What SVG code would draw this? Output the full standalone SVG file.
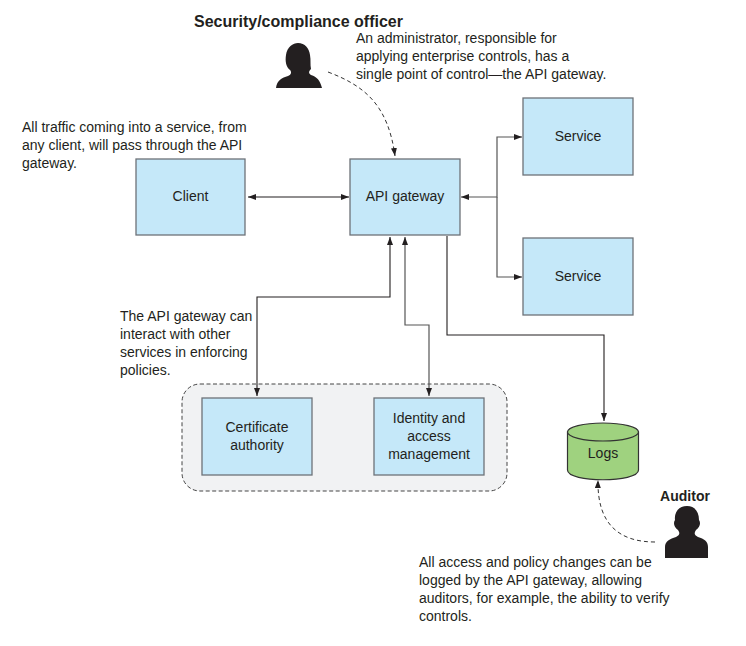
<svg xmlns="http://www.w3.org/2000/svg" width="746" height="646" viewBox="0 0 746 646">
<style>
text{font-family:"Liberation Sans",Arial,sans-serif;font-size:14px;fill:#231f20}
.c{text-anchor:middle}
.t{font-weight:bold;font-size:16px}
.b{font-weight:bold;font-size:14px}
.box{fill:#c5e8f9;stroke:#6d7278;stroke-width:1.3}
.k{fill:none;stroke:#555;stroke-width:1.2}
.n{fill:none;stroke:#231f20;stroke-width:1.1}
.d{fill:none;stroke:#333;stroke-width:1;stroke-dasharray:4 3}
.p{fill:#231f20}
</style>
<defs>
<marker id="a" viewBox="0 0 8 6" refX="8" refY="3" markerWidth="8" markerHeight="6" markerUnits="userSpaceOnUse" orient="auto-start-reverse"><path d="M0 0L8 3L0 6Z" fill="#231f20"/></marker>
</defs>
<rect width="746" height="646" fill="#fff"/>
<g id="group-bg"><rect x="182" y="384" width="325" height="107" rx="18" fill="#f1f2f3" stroke="#444" stroke-width="1" stroke-dasharray="4 2.500"/></g>
<g id="connectors">
<path class="d" d="M328 72C365 86 388 105 395 156" marker-end="url(#a)"/>
<path class="n" d="M248 197H349" marker-start="url(#a)" marker-end="url(#a)"/>
<path class="k" d="M461 197H497V137H522" marker-start="url(#a)" marker-end="url(#a)"/>
<path class="k" d="M497 197V277H522" marker-end="url(#a)"/>
<path class="n" d="M390 237V297H257V396" marker-start="url(#a)" marker-end="url(#a)"/>
<path class="k" d="M405 237V325H429V396" marker-start="url(#a)" marker-end="url(#a)"/>
<path class="n" d="M447 236V335H604V421" marker-end="url(#a)"/>
<path class="d" d="M655 542C620 542 597 525 598 480" marker-end="url(#a)"/>
</g>
<g id="client"><rect class="box" x="136" y="159" width="109" height="76"/><text class="c" x="190.500" y="201">Client</text></g>
<g id="api-gateway"><rect class="box" x="350" y="159" width="110" height="76"/><text class="c" x="405" y="201">API gateway</text></g>
<g id="service-1"><rect class="box" x="523" y="98" width="110" height="77"/><text class="c" x="578" y="141">Service</text></g>
<g id="service-2"><rect class="box" x="523" y="238" width="110" height="77"/><text class="c" x="578" y="281">Service</text></g>
<g id="certificate-authority"><rect class="box" x="202" y="398" width="110" height="77"/><text class="c" x="257" y="432">Certificate</text><text class="c" x="257" y="450">authority</text></g>
<g id="identity"><rect class="box" x="374" y="398" width="110" height="77"/><text class="c" x="429" y="423">Identity and</text><text class="c" x="429" y="441">access</text><text class="c" x="429" y="459">management</text></g>
<g id="logs">
<path d="M567.500 432V470C567.500 483 638.500 483 638.500 470V432Z" fill="#9fd27f" stroke="#333" stroke-width="1.2"/>
<ellipse cx="603" cy="432" rx="35.500" ry="9" fill="#9fd27f" stroke="#333" stroke-width="1.2"/>
<text class="c" x="603" y="458">Logs</text>
</g>
<g id="officer">
<text class="t" x="194" y="27">Security/compliance officer</text>
<path class="p" d="M276 88C277 80 282 78 288 76C291 75 292 72 290 70C286 67 285 61 286 55C287 47 293 43 298 43C305 43 309 48 310 55C311 60 310 65 311 69C309 71 308 73 311 75C317 77 320 80 322 88Z"/>
</g>
<g id="auditor">
<text class="b c" x="685" y="501">Auditor</text>
<path class="p" d="M665 558V547C665 541 670 539 676 537C680 535 680 533 678 530C674 527 673 523 675 520C674 512 679 506 687 506C695 506 699 512 699 520C701 523 700 527 696 530C694 533 694 535 698 537C704 539 708 541 708 547V558Z"/>
</g>
<g id="notes">
<text x="356" y="43">An administrator, responsible for</text>
<text x="356" y="61">applying enterprise controls, has a</text>
<text x="356" y="79">single point of control—the API gateway.</text>
<text x="22" y="132">All traffic coming into a service, from</text>
<text x="22" y="150">any client, will pass through the API</text>
<text x="22" y="168">gateway.</text>
<text x="120" y="321">The API gateway can</text>
<text x="120" y="339">interact with other</text>
<text x="120" y="357">services in enforcing</text>
<text x="120" y="375">policies.</text>
<text x="419" y="567">All access and policy changes can be</text>
<text x="419" y="585">logged by the API gateway, allowing</text>
<text x="419" y="603">auditors, for example, the ability to verify</text>
<text x="419" y="621">controls.</text>
</g>
</svg>
